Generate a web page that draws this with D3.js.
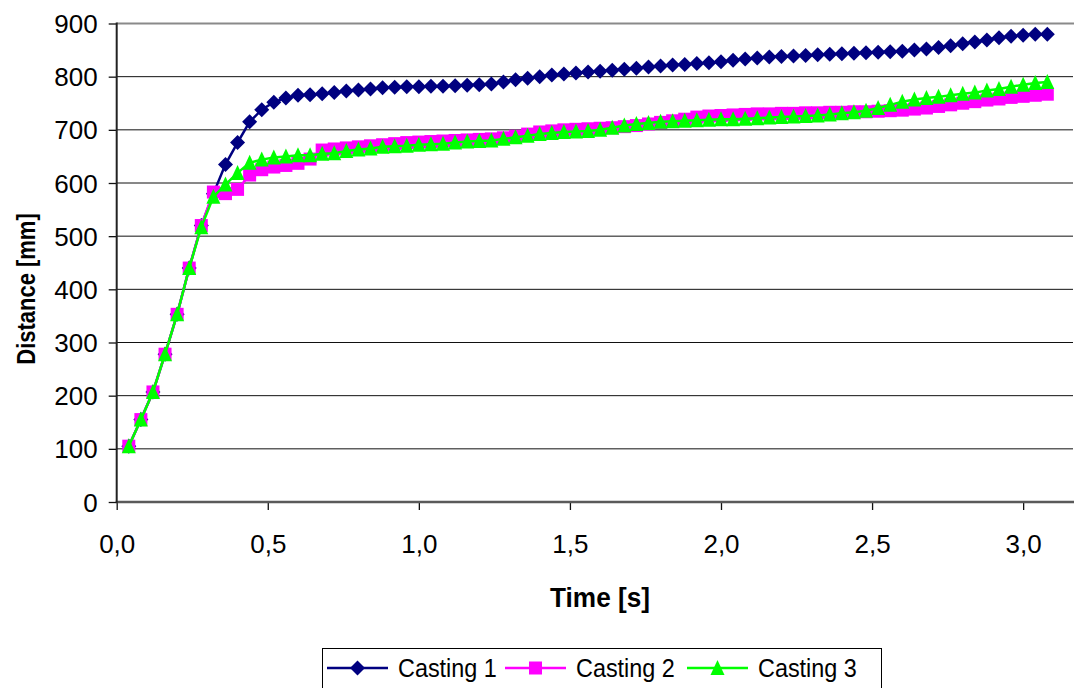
<!DOCTYPE html>
<html>
<head>
<meta charset="utf-8">
<script src="https://cdn.jsdelivr.net/npm/d3@7"></script>
<style>
  body { margin: 0; background: #fff; }
  svg { display: block; font-family: "Liberation Sans", Arial, sans-serif; }
</style>
</head>
<body>
<script>
const w = 1074;
const h = 688;

// time in seconds
const time = [0.04,0.08,0.12,0.16,0.20,0.24,0.28,0.32,0.36,0.40,
  0.44,0.48,0.52,0.56,0.60,0.64,0.68,0.72,0.76,0.80,
  0.84,0.88,0.92,0.96,1.00,1.04,1.08,1.12,1.16,1.20,
  1.24,1.28,1.32,1.36,1.40,1.44,1.48,1.52,1.56,1.60,
  1.64,1.68,1.72,1.76,1.80,1.84,1.88,1.92,1.96,2.00,
  2.04,2.08,2.12,2.16,2.20,2.24,2.28,2.32,2.36,2.40,
  2.44,2.48,2.52,2.56,2.60,2.64,2.68,2.72,2.76,2.80,
  2.84,2.88,2.92,2.96,3.00,3.04,3.08];

const casting1 = [105,155,207,278,353,440,520,580,635,676,
  715,738,752,760,765,766,768,770,773,775,
  777,779,780,781,781,782,782,783,784,785,
  786,790,794,797,800,803,805,807,809,810,
  812,814,816,818,820,822,823,825,826,828,
  831,833,835,837,838,839,840,841,842,843,
  844,845,846,847,848,850,852,855,858,862,
  865,869,873,876,878,880,880];

const casting2 = [105,155,207,278,353,440,520,583,580,588,
  615,625,630,633,637,645,662,664,666,668,
  670,672,674,676,677,678,679,680,681,682,
  683,685,688,692,696,698,700,701,702,703,
  704,706,708,711,714,717,720,724,726,727,
  728,729,730,730,731,731,732,732,733,733,
  734,734,735,736,737,739,741,744,747,750,
  753,756,758,761,763,765,767];

const casting3 = [105,155,207,278,353,440,517,574,597,619,
  638,644,648,650,652,652,655,656,660,663,
  665,668,669,670,672,673,674,676,678,679,
  680,683,686,689,692,694,696,697,698,700,
  704,708,711,713,715,716,717,718,719,720,
  720,721,722,723,724,725,726,727,729,731,
  733,736,741,747,753,757,760,762,765,768,
  770,774,777,781,785,788,790];

const seriesNames = ["Casting 1", "Casting 2", "Casting 3"];
const seriesValues = [casting1, casting2, casting3];
const seriesColors = ["#000080", "#ff00ff", "#00ff00"];
const seriesMarkers = ["diamond", "square", "triangle"];

const xTicks = [0, 0.5, 1.0, 1.5, 2.0, 2.5, 3.0];
const yTicks = [0, 100, 200, 300, 400, 500, 600, 700, 800, 900];

const plotLeft = 116.7, plotRight = 1073, plotTop = 23.5, plotBottom = 502;

const x = d3.scaleLinear().domain([0, 3.165]).range([plotLeft, plotRight]);
const y = d3.scaleLinear().domain([0, 900]).range([plotBottom, plotTop]);

function markerPath(type) {
  if (type === "diamond") return "M0,-7.5L7.5,0L0,7.5L-7.5,0Z";
  if (type === "square") return "M-6.5,-6.5H6.5V6.5H-6.5Z";
  return "M0,-8L7,7H-7Z";
}

const svg = d3.select("body").append("svg")
  .attr("width", w)
  .attr("height", h);

svg.append("rect").attr("width", w).attr("height", h).attr("fill", "#fff");

// gridlines
svg.append("g")
  .selectAll("line")
  .data(yTicks.filter(d => d > 0 && d < 900))
  .join("line")
  .attr("x1", plotLeft).attr("x2", plotRight)
  .attr("y1", d => y(d)).attr("y2", d => y(d))
  .attr("stroke", "#111")
  .attr("stroke-width", 1);

// top border
svg.append("line")
  .attr("x1", plotLeft).attr("x2", w)
  .attr("y1", y(900)).attr("y2", y(900))
  .attr("stroke", "#8a8a8a")
  .attr("stroke-width", 2);

// x axis
const xAxis = d3.axisBottom(x)
  .tickValues(xTicks)
  .tickSize(8)
  .tickSizeOuter(0)
  .tickFormat(d => d.toFixed(1).replace(".", ","));

const gx = svg.append("g")
  .attr("transform", "translate(0," + plotBottom + ")")
  .call(xAxis);
gx.select(".domain").remove();
gx.selectAll(".tick line").attr("stroke", "#111").attr("stroke-width", 1.3);
gx.selectAll(".tick text")
  .attr("y", 51).attr("dy", null)
  .attr("fill", "#000")
  .attr("font-size", 25)
  .attr("font-family", "Liberation Sans, Arial, sans-serif")
  .attr("transform", "scale(1.04,1)");

svg.append("line")
  .attr("x1", plotLeft - 1).attr("x2", w)
  .attr("y1", plotBottom).attr("y2", plotBottom)
  .attr("stroke", "#5a5a5a")
  .attr("stroke-width", 2.5);

// y axis
const yAxis = d3.axisLeft(y)
  .tickValues(yTicks)
  .tickSize(8)
  .tickSizeOuter(0);

const gy = svg.append("g")
  .attr("transform", "translate(" + plotLeft + ",0)")
  .call(yAxis);
gy.select(".domain").remove();
gy.selectAll(".tick line").attr("stroke", "#111").attr("stroke-width", 1.3);
gy.selectAll(".tick text")
  .attr("x", -19 / 1.04).attr("dy", null).attr("y", 9)
  .attr("fill", "#000")
  .attr("font-size", 25)
  .attr("font-family", "Liberation Sans, Arial, sans-serif")
  .attr("transform", "scale(1.04,1)");

svg.append("line")
  .attr("x1", plotLeft).attr("x2", plotLeft)
  .attr("y1", plotTop - 1).attr("y2", plotBottom + 1)
  .attr("stroke", "#222")
  .attr("stroke-width", 2);

// axis titles
svg.append("text")
  .attr("transform", "translate(600,607) scale(0.97,1)")
  .attr("text-anchor", "middle")
  .attr("font-size", 27)
  .attr("font-weight", "bold")
  .text("Time [s]");

svg.append("text")
  .attr("transform", "translate(35,289) rotate(-90) scale(1,1.2)")
  .attr("text-anchor", "middle")
  .attr("font-size", 22)
  .attr("font-weight", "bold")
  .text("Distance [mm]");

// series
const line = d3.line().x((d, i) => x(time[i])).y(d => y(d));

seriesValues.forEach((vals, s) => {
  const g = svg.append("g");
  g.append("path")
    .attr("d", line(vals))
    .attr("fill", "none")
    .attr("stroke", seriesColors[s])
    .attr("stroke-width", 2.5);
  g.selectAll("path.mark")
    .data(vals)
    .join("path")
    .attr("class", "mark")
    .attr("d", markerPath(seriesMarkers[s]))
    .attr("transform", (d, i) => "translate(" + x(time[i]) + "," + y(d) + ")")
    .attr("fill", seriesColors[s]);
});

// legend
const legend = svg.append("g");
legend.append("rect")
  .attr("x", 322.5).attr("y", 648.5)
  .attr("width", 559).attr("height", 45)
  .attr("fill", "#fff")
  .attr("stroke", "#000")
  .attr("stroke-width", 1);

const legendX = [327, 505, 687];
seriesNames.forEach((name, s) => {
  const lx = legendX[s];
  const item = legend.append("g").attr("transform", "translate(" + lx + ",668)");
  item.append("line")
    .attr("x1", 0).attr("x2", 61)
    .attr("stroke", seriesColors[s])
    .attr("stroke-width", 2.5);
  item.append("path")
    .attr("d", markerPath(seriesMarkers[s]))
    .attr("transform", "translate(30.5,0)")
    .attr("fill", seriesColors[s]);
  item.append("text")
    .attr("transform", "translate(71,9.3) scale(0.9,1)")
    .attr("font-size", 26)
    .text(name);
});
</script>
</body>
</html>
